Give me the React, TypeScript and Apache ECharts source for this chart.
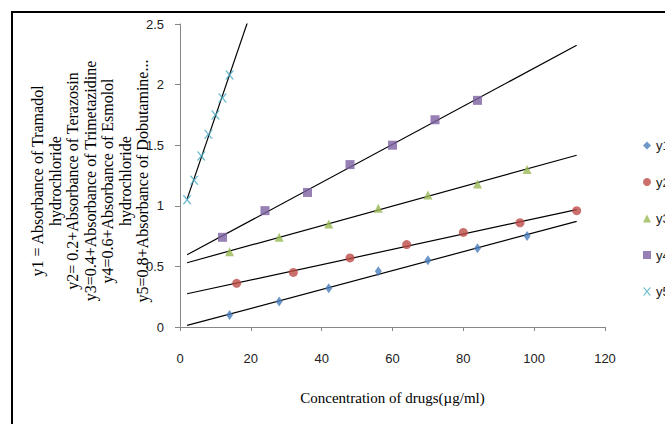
import React, { useEffect, useRef } from "react";
import * as echarts from "echarts";

const seriesNames = ["y1", "y2", "y3", "y4", "y5"];
const y1X = [14, 28, 42, 56, 70, 84, 98];
const y1Y = [0.10, 0.21, 0.32, 0.46, 0.55, 0.65, 0.75];
const y2X = [16, 32, 48, 64, 80, 96, 112];
const y2Y = [0.36, 0.45, 0.57, 0.68, 0.78, 0.86, 0.96];
const y3X = [14, 28, 42, 56, 70, 84, 98];
const y3Y = [0.62, 0.74, 0.85, 0.98, 1.09, 1.18, 1.30];
const y4X = [12, 24, 36, 48, 60, 72, 84];
const y4Y = [0.74, 0.96, 1.11, 1.34, 1.50, 1.71, 1.87];
const y5X = [2, 4, 6, 8, 10, 12, 14];
const y5Y = [1.05, 1.21, 1.41, 1.59, 1.75, 1.89, 2.08];
const trendRange = [2, 112];
const xTicks = [0, 20, 40, 60, 80, 100, 120];
const yTicks = [0, 0.5, 1, 1.5, 2, 2.5];

const yTitleLines = [
  "y1 = Absorbance of Tramadol",
  "hydrochloride",
  "y2= 0.2+Absorbance of Terazosin",
  "y3=0.4+Absorbance of Trimetazidine",
  "y4=0.6+Absorbance of Esmolol",
  "hydrochloride",
  "y5=0.8+Absorbance of Dobutamine...",
];
const xTitle = "Concentration of drugs(\u00b5g/ml)";

const colors = ["#4A7EBB", "#BE4B48", "#98B954", "#7D60A0", "#4BACC6"];
const symbols = [
  "diamond",
  "circle",
  "triangle",
  "rect",
  "path://M0,0 L2,0 L5,4 L8,0 L10,0 L6,5 L10,10 L8,10 L5,6 L2,10 L0,10 L4,5 Z",
];
const symbolSizes: any[] = [[7, 10], 9, 9, 9, 9];

function regress(xs: number[], ys: number[]) {
  const n = xs.length;
  const mx = xs.reduce((a, b) => a + b, 0) / n;
  const my = ys.reduce((a, b) => a + b, 0) / n;
  let sxy = 0;
  let sxx = 0;
  for (let i = 0; i < n; i++) {
    sxy += (xs[i] - mx) * (ys[i] - my);
    sxx += (xs[i] - mx) * (xs[i] - mx);
  }
  const slope = sxy / sxx;
  return (x: number) => my + slope * (x - mx);
}

export default function App() {
  const ref = useRef<HTMLDivElement>(null);
  useEffect(() => {
    if (!ref.current) return;
    const chart = echarts.init(ref.current, null, { renderer: "svg" });
    const xs = [y1X, y2X, y3X, y4X, y5X];
    const ys = [y1Y, y2Y, y3Y, y4Y, y5Y];
    const series: any[] = [];
    seriesNames.forEach((name, i) => {
      const f = regress(xs[i], ys[i]);
      series.push({
        type: "line",
        data: trendRange.map((x) => [x, f(x)]),
        showSymbol: false,
        symbol: "none",
        clip: true,
        silent: true,
        lineStyle: { color: "#000", width: 1.2 },
        z: 1,
      });
    });
    seriesNames.forEach((name, i) => {
      series.push({
        name,
        type: "scatter",
        data: xs[i].map((x, j) => [x, ys[i][j]]),
        symbol: symbols[i],
        symbolSize: symbolSizes[i],
        itemStyle: { color: colors[i] },
        z: 3,
      });
    });
    chart.setOption({
      animation: false,
      backgroundColor: "#fff",
      grid: { left: 180, right: 60, top: 24, bottom: 97 },
      legend: {
        data: seriesNames.map((n, i) => ({ name: n, icon: symbols[i] })),
        orient: "vertical",
        left: 638,
        top: 134,
        itemGap: 23.5,
        itemWidth: 8,
        itemHeight: 8,
        textStyle: { fontFamily: "Liberation Sans", fontSize: 13, color: "#222" },
      },
      xAxis: {
        type: "value",
        min: xTicks[0],
        max: xTicks[xTicks.length - 1],
        interval: 20,
        name: xTitle,
        nameLocation: "middle",
        nameGap: 63,
        nameTextStyle: { fontFamily: "Liberation Serif", fontSize: 15, color: "#000" },
        axisLine: { show: true, lineStyle: { color: "#868686" } },
        axisTick: { show: true, length: 4, lineStyle: { color: "#868686" } },
        splitLine: { show: false },
        axisLabel: { margin: 25, fontFamily: "Liberation Sans", fontSize: 13, color: "#222" },
      },
      yAxis: {
        type: "value",
        min: yTicks[0],
        max: yTicks[yTicks.length - 1],
        interval: 0.5,
        axisLine: { show: true, lineStyle: { color: "#868686" } },
        axisTick: { show: true, length: 5, lineStyle: { color: "#868686" } },
        splitLine: { show: false },
        axisLabel: { margin: 16, fontFamily: "Liberation Sans", fontSize: 13, color: "#222" },
      },
      graphic: [
        {
          type: "rect",
          shape: { x: 12, y: 12, width: 800, height: 600 },
          style: { fill: "none", stroke: "#000", lineWidth: 2 },
          silent: true,
        },
        {
          type: "text",
          x: 90,
          y: 181,
          rotation: Math.PI / 2,
          style: {
            text: yTitleLines.join("\n"),
            font: "16px 'Liberation Serif'",
            fill: "#000",
            align: "center",
            verticalAlign: "middle",
            lineHeight: 17.5,
          },
          z: 10,
        },
      ],
      series,
    });
    return () => chart.dispose();
  }, []);
  return (
    <div
      ref={ref}
      style={{ position: "absolute", left: 0, top: 0, width: 665, height: 424 }}
    />
  );
}
